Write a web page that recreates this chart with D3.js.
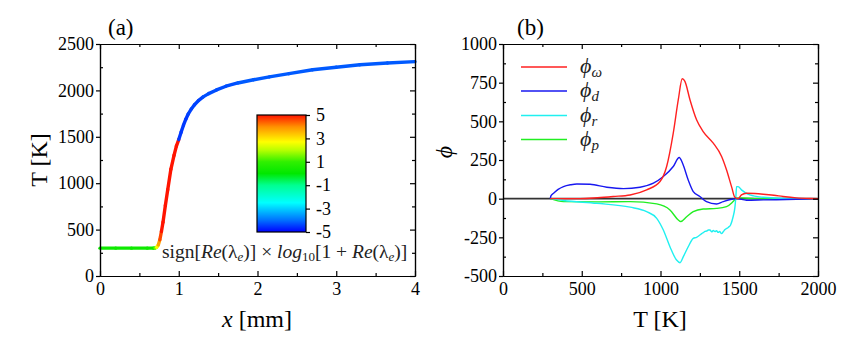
<!DOCTYPE html>
<html>
<head>
<meta charset="utf-8">
<script src="https://cdn.jsdelivr.net/npm/d3@7"></script>
<style>
  body { margin: 0; background: #fff; }
</style>
</head>
<body>
<div id="chart"></div>
<script>
// ---- data: panel (a) temperature profile, colour = sign[Re]*log10[1+Re]
var xMm = [0, 0.2, 0.4, 0.6, 0.68, 0.70, 0.72, 0.74, 0.76, 0.78, 0.80, 0.83, 0.86, 0.90, 0.94, 0.97, 1.0,
  1.03, 1.06, 1.09, 1.12, 1.16, 1.20, 1.25, 1.31, 1.38, 1.48, 1.60, 1.75, 1.95, 2.15, 2.4, 2.7, 3.0, 3.3, 3.65, 4.0];
var tempK = [300, 300, 300, 300, 300, 302, 310, 335, 390, 480, 580, 760, 930, 1150, 1300, 1400, 1470,
  1550, 1625, 1690, 1745, 1800, 1845, 1890, 1930, 1965, 2005, 2045, 2080, 2115, 2145, 2180, 2222, 2250, 2276, 2295, 2310];
var lamLog = [0.3, 0.3, 0.3, 0.3, 0.3, 1.5, 2.6, 3.8, 4.6, 5, 5, 5, 5, 5, 5, 5, -4.5,
  -4.5, -4.5, -4.5, -4.4, -4.4, -4.4, -4.4, -4.3, -4.3, -4.3, -4.3, -4.2, -4.2, -4.2, -4.2, -4.2, -4.2, -4.2, -4.2, -4.2];

// colour bar
var cbValues = [-5, -4, -2.5, -1, 0, 1, 2, 2.7, 4, 5];
var cbColors = ['#0000ff', '#0070ff', '#00ffff', '#00ff90', '#00e800', '#30f000', '#b8ff00', '#ffff00', '#ff9000', '#ff1400'];
var cbTicks = [5, 3, 1, -1, -3, -5];

// ---- data: panel (b) phi terms vs T
var tW = [300, 490, 600, 700, 807, 912, 997, 1039, 1081, 1113, 1138, 1155, 1187, 1229, 1271, 1335, 1388, 1419,
  1451, 1472, 1493, 1514, 1546, 1600, 1652, 1720, 1778, 1863, 1950, 2000];
var phiW = [0, 0, 6, 14, 24, 57, 111, 208, 424, 640, 775, 758, 640, 510, 434, 359, 273, 187,
  78, 9, 0, 24, 35, 33, 29, 22, 14, 5, 1, 0];
var tD = [300, 305, 321, 350, 384, 430, 469, 553, 659, 765, 870, 955, 1018, 1081, 1119, 1140, 1176, 1208,
  1250, 1292, 1356, 1398, 1451, 1483, 1546, 1652, 1863, 2000];
var phiD = [0, 20, 35, 60, 78, 90, 95, 93, 74, 65, 74, 100, 143, 208, 266, 229, 121, 46,
  14, -19, -34, -19, -4, 0, -10, -8, -4, 0];
var tR = [300, 384, 596, 807, 912, 976, 1018, 1060, 1102, 1124, 1145, 1176, 1208, 1229, 1250, 1262, 1271, 1283, 1292, 1304, 1314,
  1325, 1335, 1346, 1356, 1366, 1375, 1388, 1398, 1410, 1430, 1445, 1461, 1472, 1479, 1483, 1493, 1514, 1567, 1652, 1760, 2000];
var phiR = [0, -12, -30, -55, -84, -127, -203, -311, -397, -414, -375, -311, -257, -250, -235, -226, -220, -212, -210, -203, -203,
  -215, -206, -213, -207, -218, -212, -226, -214, -200, -186, -170, -117, -60, 20, 78, 78, 57, 24, 9, 3, 0];
var tP = [300, 384, 596, 807, 976, 1060, 1113, 1128, 1166, 1208, 1271, 1356, 1419, 1461, 1483, 1514, 1600, 2000];
var phiP = [0, -19, -21, -19, -34, -73, -138, -148, -117, -84, -67, -63, -52, -19, 3, 5, 0, 0];

var series = [
  {t: tW, v: phiW, color: '#ff2020', sub: 'ω'},
  {t: tD, v: phiD, color: '#1818f0', sub: 'd'},
  {t: tR, v: phiR, color: '#20f0f0', sub: 'r'},
  {t: tP, v: phiP, color: '#22ee22', sub: 'p'}
];

var W = 853, H = 345;
var svg = d3.select('#chart').append('svg').attr('width', W).attr('height', H);

function styleAxis(g) {
  g.selectAll('path, line').attr('stroke', '#000').attr('stroke-width', 1.2);
  g.selectAll('text').style('font-size', '18px').attr('fill', '#000');
}

// generic frame with ticks on four sides
function frame(x, y, xMaj, xMin, yMaj, yMin) {
  var g = svg.append('g');
  var x0 = x.range()[0], x1 = x.range()[1], y0 = y.range()[1], y1 = y.range()[0];
  var fmt = d => String(d);
  g.append('g').attr('transform', 'translate(0,' + y1 + ')')
    .call(d3.axisBottom(x).tickValues(xMaj).tickSize(-5).tickSizeOuter(0).tickPadding(6).tickFormat(fmt)).call(styleAxis);
  g.append('g').attr('transform', 'translate(0,' + y1 + ')')
    .call(d3.axisBottom(x).tickValues(xMin).tickSize(-3).tickSizeOuter(0).tickFormat('')).call(styleAxis);
  g.append('g').attr('transform', 'translate(0,' + y0 + ')')
    .call(d3.axisTop(x).tickValues(xMaj).tickSize(-5).tickSizeOuter(0).tickFormat('')).call(styleAxis);
  g.append('g').attr('transform', 'translate(0,' + y0 + ')')
    .call(d3.axisTop(x).tickValues(xMin).tickSize(-3).tickSizeOuter(0).tickFormat('')).call(styleAxis);
  g.append('g').attr('transform', 'translate(' + x0 + ',0)')
    .call(d3.axisLeft(y).tickValues(yMaj).tickSize(4).tickSizeOuter(0).tickPadding(2).tickFormat(fmt)).call(styleAxis);
  g.append('g').attr('transform', 'translate(' + x0 + ',0)')
    .call(d3.axisLeft(y).tickValues(yMin).tickSize(-3).tickSizeOuter(0).tickFormat('')).call(styleAxis);
  g.append('g').attr('transform', 'translate(' + x1 + ',0)')
    .call(d3.axisRight(y).tickValues(yMaj).tickSize(-5).tickSizeOuter(0).tickFormat('')).call(styleAxis);
  g.append('g').attr('transform', 'translate(' + x1 + ',0)')
    .call(d3.axisRight(y).tickValues(yMin).tickSize(-3).tickSizeOuter(0).tickFormat('')).call(styleAxis);
  return g;
}

// ================= panel (a)
var xA = d3.scaleLinear().domain([0, 4]).range([100, 415]);
var yA = d3.scaleLinear().domain([0, 2500]).range([276, 44]);
var cScale = d3.scaleLinear().domain(cbValues).range(cbColors);

// coloured curve, segment by segment
var ptsA = xMm.map((d, i) => ({x: d, T: tempK[i], c: lamLog[i]}));
svg.append('g').selectAll('line')
  .data(ptsA.slice(0, -1))
  .enter().append('line')
  .attr('x1', (d) => xA(d.x))
  .attr('y1', (d) => yA(d.T))
  .attr('x2', (d, i) => xA(ptsA[i + 1].x))
  .attr('y2', (d, i) => yA(ptsA[i + 1].T))
  .attr('stroke', (d) => cScale(d.c))
  .attr('stroke-width', 3.4)
  .attr('stroke-linecap', 'round');

frame(xA, yA, [0, 1, 2, 3, 4], [0.5, 1.5, 2.5, 3.5], [0, 500, 1000, 1500, 2000, 2500],
  [250, 750, 1250, 1750, 2250]);

// colour bar
var cbY = d3.scaleLinear().domain([-5, 5]).range([232, 115]);
var grad = svg.append('defs').append('linearGradient')
  .attr('id', 'cbgrad').attr('x1', 0).attr('y1', 1).attr('x2', 0).attr('y2', 0);
grad.selectAll('stop').data(cbValues).enter().append('stop')
  .attr('offset', d => (d + 5) / 10)
  .attr('stop-color', (d, i) => cbColors[i]);
svg.append('rect')
  .attr('x', 257).attr('y', cbY(5)).attr('width', 49).attr('height', cbY(-5) - cbY(5))
  .attr('fill', 'url(#cbgrad)').attr('stroke', '#000').attr('stroke-width', 1.2);
svg.append('g').attr('transform', 'translate(306,0)')
  .call(d3.axisRight(cbY).tickValues(cbTicks).tickSize(4).tickSizeOuter(0).tickPadding(6).tickFormat(d => String(d)))
  .call(styleAxis)
  .call(g => g.select('.domain').remove());

// colour bar label
var cbl = svg.append('text').attr('x', 162).attr('y', 258).style('font-size', '19.5px').attr('fill', '#222');
cbl.append('tspan').text('sign[');
cbl.append('tspan').attr('font-style', 'italic').text('Re');
cbl.append('tspan').text('(λ');
cbl.append('tspan').attr('font-style', 'italic').style('font-size', '13px').attr('dy', 3).text('e');
cbl.append('tspan').attr('dy', -3).text(')] × ');
cbl.append('tspan').attr('font-style', 'italic').text('log');
cbl.append('tspan').style('font-size', '13px').attr('dy', 3).text('10');
cbl.append('tspan').attr('dy', -3).text('[1 + ');
cbl.append('tspan').attr('font-style', 'italic').text('Re');
cbl.append('tspan').text('(λ');
cbl.append('tspan').attr('font-style', 'italic').style('font-size', '13px').attr('dy', 3).text('e');
cbl.append('tspan').attr('dy', -3).text(')]');

// axis labels (a)
svg.append('text').attr('x', 108).attr('y', 35).style('font-size', '23px').text('(a)');
var xl = svg.append('text').attr('x', 257).attr('y', 327).style('font-size', '24px').attr('text-anchor', 'middle');
xl.append('tspan').attr('font-style', 'italic').text('x');
xl.append('tspan').text(' [mm]');
svg.append('text').attr('transform', 'translate(47,160) rotate(-90)')
  .style('font-size', '24px').attr('text-anchor', 'middle').text('T [K]');

// ================= panel (b)
var xB = d3.scaleLinear().domain([0, 2000]).range([503, 818]);
var yB = d3.scaleLinear().domain([-500, 1000]).range([276, 44]);

svg.append('line')
  .attr('x1', xB(0)).attr('x2', xB(2000)).attr('y1', yB(0)).attr('y2', yB(0))
  .attr('stroke', '#333').attr('stroke-width', 1.6);

var lineB = d3.line().x(d => xB(d[0])).y(d => yB(d[1])).curve(d3.curveMonotoneX);
[3, 2, 1, 0].forEach(function (k) {
  var s = series[k];
  svg.append('path')
    .datum(s.t.map((t, i) => [t, s.v[i]]))
    .attr('d', lineB)
    .attr('fill', 'none')
    .attr('stroke', s.color)
    .attr('stroke-width', 1.4);
});

frame(xB, yB, [0, 500, 1000, 1500, 2000], [250, 750, 1250, 1750],
  [-500, -250, 0, 250, 500, 750, 1000], [-375, -125, 125, 375, 625, 875]);

// legend
var legY = [67, 91, 115.5, 139.5];
series.forEach(function (s, i) {
  svg.append('line').attr('x1', 521).attr('x2', 567).attr('y1', legY[i]).attr('y2', legY[i])
    .attr('stroke', s.color).attr('stroke-width', 1.6);
  var t = svg.append('text').attr('x', 580).attr('y', legY[i] + 6).style('font-size', '22px').attr('fill', '#222');
  t.append('tspan').attr('font-style', 'italic').text('ϕ');
  t.append('tspan').attr('font-style', 'italic').style('font-size', '15px').attr('dy', 4).text(s.sub);
});

svg.append('text').attr('x', 517).attr('y', 35).style('font-size', '23px').text('(b)');
svg.append('text').attr('transform', 'translate(660,327)').style('font-size', '24px').attr('text-anchor', 'middle').text('T [K]');
svg.append('text').attr('transform', 'translate(452,152) rotate(-90)')
  .style('font-size', '24px').attr('font-style', 'italic').attr('text-anchor', 'middle').text('ϕ');

// one serif face for every text element
svg.selectAll('g').attr('font-family', null);
svg.selectAll('text').style('font-family', "'Liberation Serif'");
</script>
</body>
</html>
